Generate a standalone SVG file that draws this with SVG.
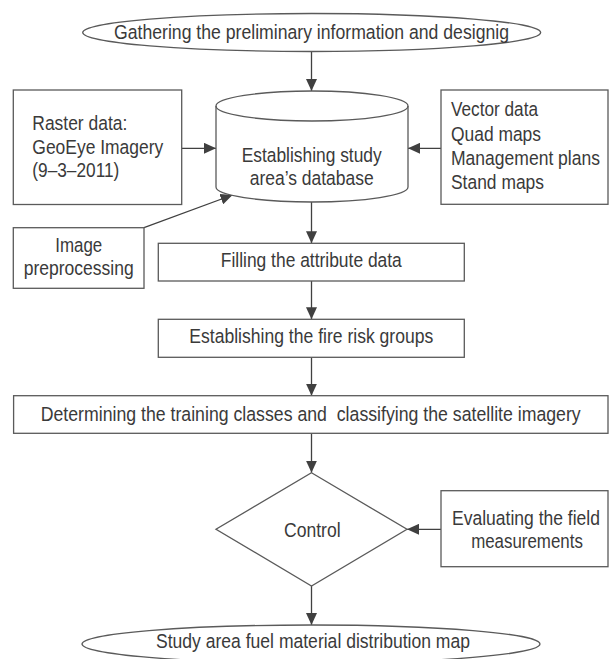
<svg xmlns="http://www.w3.org/2000/svg" width="609" height="659" viewBox="0 0 609 659">
<style>
.s{fill:#fff;stroke:#5a5a5a;stroke-width:1.3}
.t{font-family:"Liberation Sans",Arial,sans-serif;font-size:20.5px;fill:#3a3a3a}
.m{text-anchor:middle}
.c line{stroke:#404040;stroke-width:1.3}
</style>
<defs>
<marker id="ah" viewBox="0 0 12 11" refX="12" refY="5.5" markerWidth="12" markerHeight="11" markerUnits="userSpaceOnUse" orient="auto">
<path d="M0,0 L12,5.5 L0,11 Z" fill="#404040"/>
</marker>
</defs>
<rect width="609" height="659" fill="#fff"/>
<g class="c">
<line x1="311.5" y1="51.5" x2="311.5" y2="91" marker-end="url(#ah)"/>
<line x1="181.7" y1="148.3" x2="216" y2="148.3" marker-end="url(#ah)"/>
<line x1="441" y1="148.3" x2="408" y2="148.3" marker-end="url(#ah)"/>
<line x1="144" y1="227.7" x2="232.5" y2="195" marker-end="url(#ah)"/>
<line x1="311.5" y1="202" x2="311.5" y2="243.3" marker-end="url(#ah)"/>
<line x1="311.5" y1="281" x2="311.5" y2="319.3" marker-end="url(#ah)"/>
<line x1="311.5" y1="357.3" x2="311.5" y2="395.7" marker-end="url(#ah)"/>
<line x1="311.5" y1="433.3" x2="311.5" y2="472.7" marker-end="url(#ah)"/>
<line x1="441" y1="529.3" x2="407" y2="529.3" marker-end="url(#ah)"/>
<line x1="311.5" y1="586" x2="311.5" y2="625" marker-end="url(#ah)"/>
</g>
<g id="start">
<ellipse class="s" cx="311.7" cy="32.5" rx="229" ry="19"/>
<text class="t m" x="311.5" y="39" textLength="395" lengthAdjust="spacingAndGlyphs">Gathering the preliminary information and designig</text>
</g>
<g id="raster">
<rect class="s" x="13.3" y="90" width="168.4" height="114.5"/>
<text class="t" x="32.3" y="130" textLength="95" lengthAdjust="spacingAndGlyphs">Raster data:</text>
<text class="t" x="32.3" y="153.5" textLength="131" lengthAdjust="spacingAndGlyphs">GeoEye Imagery</text>
<text class="t" x="32.3" y="177" textLength="87" lengthAdjust="spacingAndGlyphs">(9–3–2011)</text>
</g>
<g id="database">
<path class="s" d="M216,106 L216,187 A96,15 0 0 0 408,187 L408,106 A96,15 0 0 0 216,106 Z"/>
<path d="M216,106 A96,15 0 0 0 408,106" fill="none" stroke="#5a5a5a" stroke-width="1.3"/>
<text class="t m" x="311.7" y="161.7" textLength="140" lengthAdjust="spacingAndGlyphs">Establishing study</text>
<text class="t m" x="311.7" y="185" textLength="124" lengthAdjust="spacingAndGlyphs">area’s database</text>
</g>
<g id="vector">
<rect class="s" x="441" y="90" width="167" height="114.3"/>
<text class="t" x="451" y="116" textLength="87" lengthAdjust="spacingAndGlyphs">Vector data</text>
<text class="t" x="451" y="140.5" textLength="90" lengthAdjust="spacingAndGlyphs">Quad maps</text>
<text class="t" x="451" y="165" textLength="149" lengthAdjust="spacingAndGlyphs">Management plans</text>
<text class="t" x="451" y="189.3" textLength="93" lengthAdjust="spacingAndGlyphs">Stand maps</text>
</g>
<g id="preprocessing">
<rect class="s" x="13.3" y="227.7" width="130.7" height="60.6"/>
<text class="t m" x="78.7" y="251.7" textLength="47" lengthAdjust="spacingAndGlyphs">Image</text>
<text class="t m" x="78.7" y="275" textLength="110" lengthAdjust="spacingAndGlyphs">preprocessing</text>
</g>
<g id="filling">
<rect class="s" x="158.3" y="243.3" width="306" height="37.7"/>
<text class="t m" x="311.3" y="267.3" textLength="181" lengthAdjust="spacingAndGlyphs">Filling the attribute data</text>
</g>
<g id="firerisk">
<rect class="s" x="158.3" y="319.3" width="306" height="38"/>
<text class="t m" x="311.3" y="343.3" textLength="244" lengthAdjust="spacingAndGlyphs">Establishing the fire risk groups</text>
</g>
<g id="classify">
<rect class="s" x="13.6" y="395.7" width="594.4" height="37.6"/>
<text class="t m" x="310.7" y="420.7" textLength="540" lengthAdjust="spacingAndGlyphs" xml:space="preserve">Determining the training classes and  classifying the satellite imagery</text>
</g>
<g id="control">
<path class="s" d="M311.5,472.7 L407,529.3 L311.5,586 L216,529.3 Z"/>
<text class="t m" x="312.3" y="537.3" textLength="56.7" lengthAdjust="spacingAndGlyphs">Control</text>
</g>
<g id="evaluating">
<rect class="s" x="441" y="490.7" width="167" height="76"/>
<text class="t m" x="526" y="525" textLength="148" lengthAdjust="spacingAndGlyphs">Evaluating the field</text>
<text class="t m" x="527" y="548.3" textLength="111.7" lengthAdjust="spacingAndGlyphs">measurements</text>
</g>
<g id="result">
<ellipse class="s" cx="311" cy="644" rx="229" ry="19"/>
<text class="t m" x="313" y="648.3" textLength="314" lengthAdjust="spacingAndGlyphs">Study area fuel material distribution map</text>
</g>
</svg>
